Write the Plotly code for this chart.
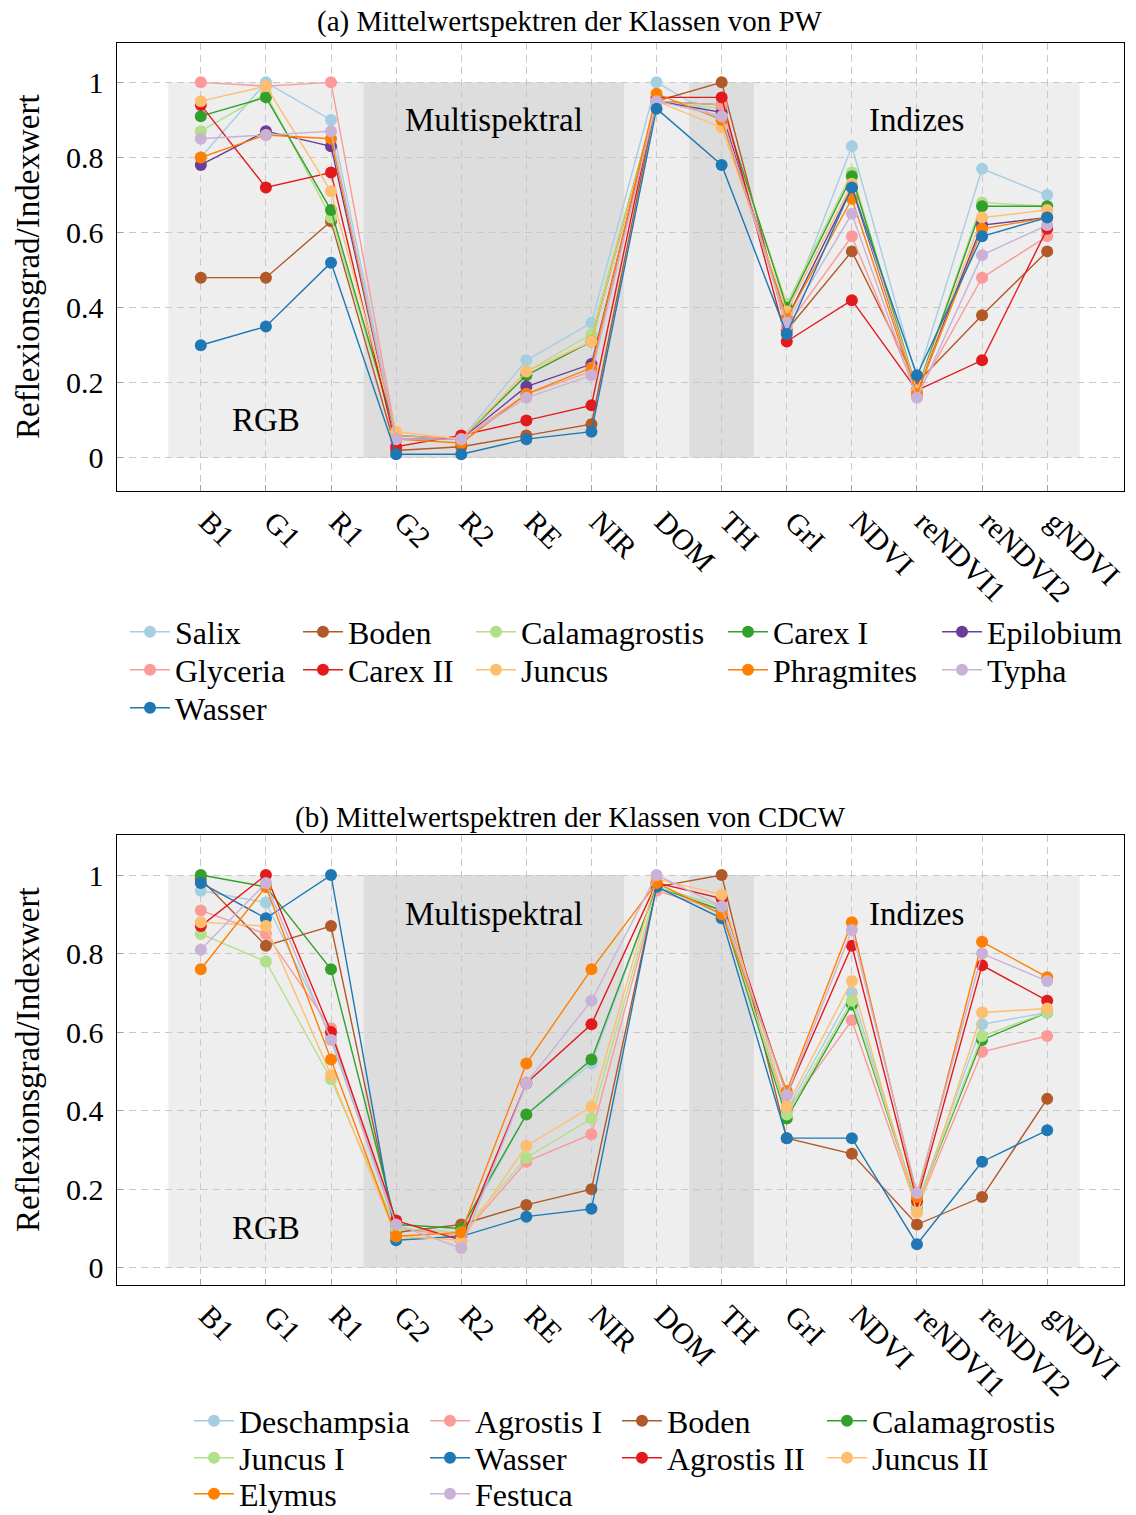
import plotly.graph_objects as go

# Spectral bands and indices on the x axis
bands = ["B1", "G1", "R1", "G2", "R2", "RE", "NIR", "DOM", "TH", "GrI",
         "NDVI", "reNDVI1", "reNDVI2", "gNDVI"]
y_ticks = [0, 0.2, 0.4, 0.6, 0.8, 1]
y_tick_text = ["0", "0.2", "0.4", "0.6", "0.8", "1"]

# (a) PW class means
pw_salix = [0.80, 1.00, 0.90, 0.06, 0.05, 0.26, 0.36, 1.00, 0.90, 0.38, 0.83, 0.21, 0.77, 0.70]
pw_boden = [0.48, 0.48, 0.63, 0.02, 0.03, 0.06, 0.09, 0.95, 1.00, 0.34, 0.55, 0.20, 0.38, 0.55]
pw_calamagrostis = [0.87, 0.97, 0.64, 0.06, 0.05, 0.23, 0.33, 0.95, 0.93, 0.41, 0.76, 0.18, 0.68, 0.67]
pw_carex1 = [0.91, 0.96, 0.66, 0.06, 0.05, 0.22, 0.31, 0.95, 0.94, 0.40, 0.75, 0.18, 0.67, 0.67]
pw_epilobium = [0.78, 0.87, 0.83, 0.05, 0.05, 0.19, 0.25, 0.95, 0.92, 0.37, 0.72, 0.18, 0.62, 0.64]
pw_glyceria = [1.00, 0.99, 1.00, 0.06, 0.05, 0.17, 0.23, 0.95, 0.94, 0.35, 0.59, 0.17, 0.48, 0.59]
pw_carex2 = [0.94, 0.72, 0.76, 0.03, 0.06, 0.10, 0.14, 0.96, 0.96, 0.31, 0.42, 0.18, 0.26, 0.61]
pw_juncus = [0.95, 0.99, 0.71, 0.07, 0.05, 0.23, 0.31, 0.95, 0.88, 0.39, 0.73, 0.18, 0.64, 0.66]
pw_phragmites = [0.80, 0.86, 0.85, 0.05, 0.04, 0.17, 0.24, 0.97, 0.90, 0.37, 0.69, 0.17, 0.61, 0.64]
pw_typha = [0.85, 0.86, 0.87, 0.05, 0.05, 0.16, 0.22, 0.95, 0.91, 0.36, 0.65, 0.16, 0.54, 0.62]
pw_wasser = [0.30, 0.35, 0.52, 0.01, 0.01, 0.05, 0.07, 0.93, 0.78, 0.33, 0.72, 0.22, 0.59, 0.64]

# (b) CDCW class means
cd_deschampsia = [0.96, 0.93, 0.59, 0.10, 0.09, 0.39, 0.52, 0.97, 0.92, 0.40, 0.70, 0.16, 0.62, 0.65]
cd_agrostis1 = [0.91, 0.85, 0.61, 0.10, 0.08, 0.27, 0.34, 0.96, 0.91, 0.40, 0.63, 0.15, 0.55, 0.59]
cd_boden = [0.99, 0.82, 0.87, 0.09, 0.11, 0.16, 0.20, 0.97, 1.00, 0.33, 0.29, 0.11, 0.18, 0.43]
cd_calamagrostis = [1.00, 0.97, 0.76, 0.11, 0.10, 0.39, 0.53, 0.97, 0.91, 0.38, 0.67, 0.16, 0.58, 0.65]
cd_juncus1 = [0.85, 0.78, 0.48, 0.10, 0.09, 0.28, 0.38, 0.97, 0.92, 0.39, 0.68, 0.16, 0.59, 0.65]
cd_wasser = [0.98, 0.89, 1.00, 0.07, 0.08, 0.13, 0.15, 0.97, 0.89, 0.33, 0.33, 0.06, 0.27, 0.35]
cd_agrostis2 = [0.87, 1.00, 0.60, 0.12, 0.07, 0.47, 0.62, 0.98, 0.94, 0.44, 0.82, 0.17, 0.77, 0.68]
cd_juncus2 = [0.88, 0.87, 0.49, 0.08, 0.07, 0.31, 0.41, 0.99, 0.95, 0.41, 0.73, 0.14, 0.65, 0.66]
cd_elymus = [0.76, 0.97, 0.53, 0.08, 0.09, 0.52, 0.76, 0.98, 0.90, 0.45, 0.88, 0.18, 0.83, 0.74]
cd_festuca = [0.81, 0.98, 0.58, 0.11, 0.05, 0.47, 0.68, 1.00, 0.92, 0.44, 0.86, 0.19, 0.80, 0.73]

pw_series = [
    ("Salix", pw_salix, "#a6cee3"),
    ("Boden", pw_boden, "#b15928"),
    ("Calamagrostis", pw_calamagrostis, "#b2df8a"),
    ("Carex I", pw_carex1, "#33a02c"),
    ("Epilobium", pw_epilobium, "#6a3d9a"),
    ("Glyceria", pw_glyceria, "#fb9a99"),
    ("Carex II", pw_carex2, "#e31a1c"),
    ("Juncus", pw_juncus, "#fdbf6f"),
    ("Phragmites", pw_phragmites, "#ff7f00"),
    ("Typha", pw_typha, "#cab2d6"),
    ("Wasser", pw_wasser, "#1f78b4"),
]
cd_series = [
    ("Deschampsia", cd_deschampsia, "#a6cee3"),
    ("Agrostis I", cd_agrostis1, "#fb9a99"),
    ("Boden", cd_boden, "#b15928"),
    ("Calamagrostis", cd_calamagrostis, "#33a02c"),
    ("Juncus I", cd_juncus1, "#b2df8a"),
    ("Wasser", cd_wasser, "#1f78b4"),
    ("Agrostis II", cd_agrostis2, "#e31a1c"),
    ("Juncus II", cd_juncus2, "#fdbf6f"),
    ("Elymus", cd_elymus, "#ff7f00"),
    ("Festuca", cd_festuca, "#cab2d6"),
]

W, H = 1136, 1515
FONT = "Liberation Serif"
x_idx = list(range(len(bands)))


def px_x(p):
    return p / W


def px_y(p):
    return 1 - p / H


fig = go.Figure()

# legend layout: text start of each column (px) and row centres (px)
pw_cols = [175, 348, 521, 773, 987]
pw_rows = [632, 670, 708]
cd_cols = [239, 475, 667, 872]
cd_rows = [1421, 1458, 1494]

legend_layouts = {}
leg_no = 1


def add_block(series, xa, ya, cols, rows):
    global leg_no
    ncol = len(cols)
    for i, (name, vals, col) in enumerate(series):
        key = "legend" if leg_no == 1 else f"legend{leg_no}"
        fig.add_trace(go.Scatter(
            x=x_idx, y=vals, name=name, mode="lines+markers",
            line=dict(color=col, width=1.4),
            marker=dict(color=col, size=12),
            xaxis=xa, yaxis=ya, legend=key, showlegend=True,
        ))
        r, c = divmod(i, ncol)
        legend_layouts[key] = dict(
            x=px_x(cols[c] - 50), y=px_y(rows[r]), xanchor="left", yanchor="middle",
            orientation="v", bgcolor="rgba(0,0,0,0)", borderwidth=0,
            font=dict(family=FONT, size=32, color="black"),
            itemwidth=40,
        )
        leg_no += 1


add_block(pw_series, "x", "y", pw_cols, pw_rows)
add_block(cd_series, "x2", "y2", cd_cols, cd_rows)

# shaded band groups: RGB, multispectral, DOM, TH, indices
regions = [(-0.5, 2.5, "#eeeeee"), (2.5, 6.5, "#dddddd"), (6.5, 7.5, "#eeeeee"),
           (7.5, 8.5, "#dddddd"), (8.5, 13.5, "#eeeeee")]
for xr, yr in (("x", "y"), ("x2", "y2")):
    for x0, x1, c in regions:
        fig.add_shape(type="rect", xref=xr, yref=yr, x0=x0, x1=x1, y0=0, y1=1,
                      fillcolor=c, line_width=0, layer="below")

axis_common = dict(
    showline=True, linecolor="black", linewidth=1.2, mirror=True,
    showgrid=True, gridcolor="#c8c8c8", gridwidth=1, griddash="7px,5px",
    zeroline=False, ticks="inside", ticklen=6, tickcolor="#a0a0a0",
    tickfont=dict(family=FONT, size=30, color="black"),
)
x_dom = [px_x(116.5), px_x(1124)]
xaxis = dict(axis_common, domain=x_dom, range=[-1.295, 14.18], tickmode="array",
             tickvals=x_idx, ticktext=bands, tickangle=45, ticklabelstandoff=0,
             ticklabelshift=7)
yaxis_top = dict(axis_common, domain=[px_y(491), px_y(43.3)], range=[-0.088, 1.104],
                 tickmode="array", tickvals=y_ticks, ticktext=y_tick_text,
                 ticklabelstandoff=6)
yaxis_bot = dict(axis_common, domain=[px_y(1285), px_y(835)], range=[-0.044, 1.102],
                 tickmode="array", tickvals=y_ticks, ticktext=y_tick_text,
                 ticklabelstandoff=6)

annotations = []
for ya, yc, ttl, ty in (("y", 267, "(a) Mittelwertspektren der Klassen von PW", 22),
                         ("y2", 1060, "(b) Mittelwertspektren der Klassen von CDCW", 817)):
    xr = "x" if ya == "y" else "x2"
    annotations.append(dict(text=ttl, x=px_x(570), y=px_y(ty), xref="paper", yref="paper",
                            xanchor="center", yanchor="middle", showarrow=False,
                            font=dict(family=FONT, size=29, color="black")))
    annotations.append(dict(text="Reflexionsgrad/Indexwert", x=px_x(28), y=px_y(yc),
                            xref="paper", yref="paper", xanchor="center", yanchor="middle",
                            textangle=-90, showarrow=False,
                            font=dict(family=FONT, size=33, color="black")))
    for lbl, lx, ly in (("RGB", 1.0, 0.1), ("Multispektral", 4.5, 0.9), ("Indizes", 11, 0.9)):
        annotations.append(dict(text=lbl, x=lx, y=ly, xref=xr, yref=ya, showarrow=False,
                                xanchor="center", yanchor="middle",
                                font=dict(family=FONT, size=33, color="black")))

fig.update_layout(
    width=W, height=H,
    margin=dict(l=0, r=0, t=0, b=0, autoexpand=False),
    paper_bgcolor="white", plot_bgcolor="white",
    xaxis=xaxis, yaxis=yaxis_top,
    xaxis2=dict(xaxis, anchor="y2"), yaxis2=dict(yaxis_bot, anchor="x2"),
    annotations=annotations,
    **legend_layouts,
)
fig.update_layout(xaxis=dict(anchor="y"), yaxis=dict(anchor="x"))

fig.write_html("out.html")
